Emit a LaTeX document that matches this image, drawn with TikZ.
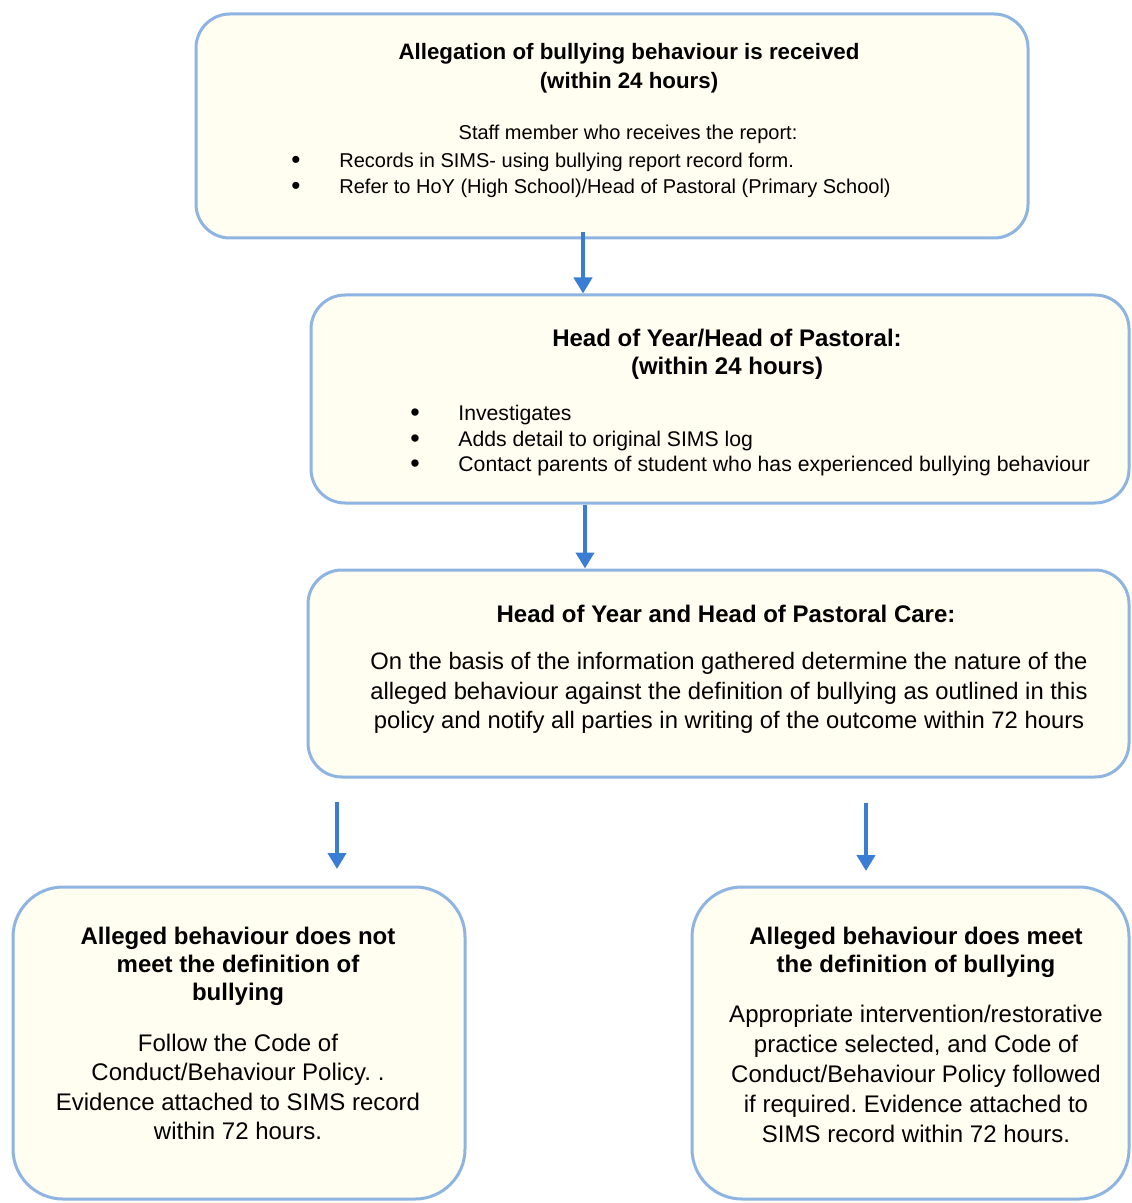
\documentclass[tikz,border=0pt]{standalone}
\usepackage{fontspec}
\setmainfont{Liberation Sans}
\usetikzlibrary{arrows.meta}
\frenchspacing

\newcommand{\fsz}[2]{\fontsize{#1}{#2}\selectfont}

\begin{document}
\begin{tikzpicture}[x=0.5pt, y=-0.5pt,
  flowbox/.style={draw=boxblue, line width=1.5pt, fill=boxcream, rectangle, rounded corners=17pt, inner sep=0pt},
  bigbox/.style={flowbox, rounded corners=25pt},
  flow/.style={draw=arrowblue, line width=2.2pt, -{Triangle[width=9pt, length=8pt]}},
  txt/.style={inner sep=0pt, align=center},
  lst/.style={inner sep=0pt, align=left, anchor=west}]

\definecolor{boxblue}{RGB}{142, 180, 226}
\definecolor{arrowblue}{RGB}{58, 125, 213}
\definecolor{boxcream}{RGB}{255, 254, 240}

\useasboundingbox[fill=white] (0,0) rectangle (1131,1203);

% Draw the boxes
\node[flowbox, minimum width=416pt, minimum height=112pt] (B1) at (612,126) {};
\node[flowbox, minimum width=409pt, minimum height=104pt] (B2) at (720,399) {};
\node[flowbox, minimum width=410.5pt, minimum height=103.5pt] (B3) at (718.5,673.5) {};
\node[bigbox, minimum width=226pt, minimum height=156pt] (B4) at (239,1043) {};
\node[bigbox, minimum width=218.5pt, minimum height=156pt] (B5) at (910.5,1043) {};

% Allegation box
\node[txt, font=\bfseries\fsz{11.15pt}{14.5pt}] (title1) at (629,68) {Allegation of bullying behaviour is received\\(within 24 hours)};
\node[txt, font=\fsz{10pt}{13pt}] (staff1) at (628,134) {Staff member who receives the report:};
\node[txt, font=\fsz{13pt}{13pt}] (bul1) at (296,175) {•\\•};
\node[lst, font=\fsz{10pt}{13pt}] (list1) at (339,175) {Records in SIMS- using bullying report record form.\\Refer to HoY (High School)/Head of Pastoral (Primary School)};

% Head of Year box
\node[txt, font=\bfseries\fsz{12pt}{14pt}] (title2) at (727,354) {Head of Year/Head of Pastoral:\\(within 24 hours)};
\node[txt, font=\fsz{13.5pt}{12.75pt}] (bul2) at (415,441) {•\\•\\•};
\node[lst, font=\fsz{10.6pt}{12.75pt}] (list2) at (458,441) {Investigates\\Adds detail to original SIMS log\\Contact parents of student who has experienced bullying behaviour};

% Head of Pastoral Care box
\node[txt, font=\bfseries\fsz{12pt}{14pt}] (title3) at (726,614) {Head of Year and Head of Pastoral Care:};
\node[txt, font=\fsz{11.9pt}{14.75pt}] (body3) at (729,693) {On the basis of the information gathered determine the nature of the\\alleged behaviour against the definition of bullying as outlined in this\\policy and notify all parties in writing of the outcome within 72 hours};

% Outcome boxes
\node[txt, font=\bfseries\fsz{12pt}{14pt}] (title4) at (238,966) {Alleged behaviour does not\\meet the definition of\\bullying};
\node[txt, font=\fsz{12pt}{14.75pt}] (body4) at (238,1087) {Follow the Code of\\Conduct/Behaviour Policy. .\\Evidence attached to SIMS record\\within 72 hours.};
\node[txt, font=\bfseries\fsz{12pt}{14pt}] (title5) at (916,952) {Alleged behaviour does meet\\the definition of bullying};
\node[txt, font=\fsz{12pt}{14.9pt}] (body5) at (916,1074) {Appropriate intervention/restorative\\practice selected, and Code of\\Conduct/Behaviour Policy followed\\if required. Evidence attached to\\SIMS record within 72 hours.};

% Draw the arrows
\coordinate (a1) at (583,232);
\coordinate (a2) at (585,505);
\coordinate (a3) at (337,802);
\coordinate (a4) at (866,803);
\draw[flow] (a1) -- (a1 |- B2.north);
\draw[flow] (a2) -- (a2 |- B3.north);
\coordinate (e3) at (337,869);
\coordinate (e4) at (866,871);
\draw[flow] (a3) -- (e3);
\draw[flow] (a4) -- (e4);

\end{tikzpicture}
\end{document}
